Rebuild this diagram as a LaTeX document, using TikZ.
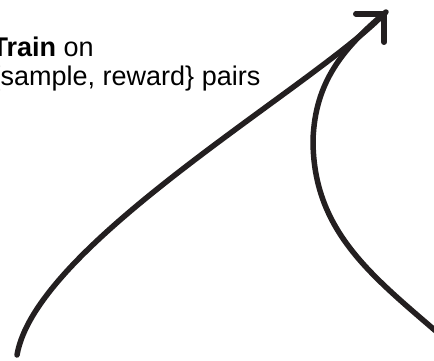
\documentclass[tikz,border=0pt]{standalone}
\usepackage{fontspec}
\setmainfont{Liberation Sans}
\usepackage{xcolor}
\usetikzlibrary{arrows.meta,positioning}
\definecolor{inkdark}{RGB}{35,31,32}

\begin{document}
\begin{tikzpicture}[x=1pt, y=1pt, every node/.style={align=left}]
\tikzset{
  curveline/.style={draw=inkdark, line width=5.5pt, line cap=round, line join=round},
  notetext/.style={font=\fontsize{27}{28.7}\selectfont, text=black, inner sep=0pt, anchor=base west}
}
\useasboundingbox (0,0) rectangle (434,361);
\clip (0,0) rectangle (434,361);
\node[notetext] (train) at (-8.5,275.5) {\textbf{Train} on\\\{sample, reward\} pairs};
\coordinate (start) at (17,6);
\coordinate (tip) at (386,349);
\coordinate (loopstart) at (445,22);
\coordinate (loopturn) at (313,221);
\draw[curveline, -{Straight Barb[length=20pt, width=40pt, round]}] (start) .. controls +(19,110) and +(-78,-78) .. (tip);
\draw[curveline] (loopstart) to[out=139, in=-90] (loopturn) to[out=88, in=220] (tip);
\end{tikzpicture}
\end{document}
